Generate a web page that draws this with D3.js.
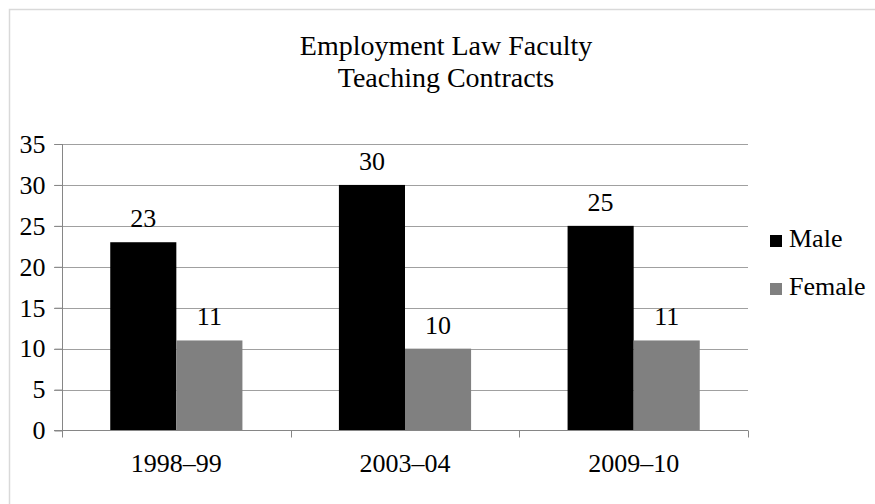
<!DOCTYPE html>
<html><head><meta charset="utf-8">
<script src="https://cdn.jsdelivr.net/npm/d3@7"></script>
<style>html,body{margin:0;padding:0;background:#fff;}svg{display:block;} svg text{font-family:"Liberation Serif","Times New Roman",serif !important;}</style>
</head><body>
<script>
const categories = ["1998–99", "2003–04", "2009–10"];
const seriesNames = ["Male", "Female"];
const maleValues = [23, 30, 25];
const femaleValues = [11, 10, 11];
const yTicks = [0, 5, 10, 15, 20, 25, 30, 35];
const titleLines = ["Employment Law Faculty", "Teaching Contracts"];
const colors = ["#000000", "#808080"];

const W = 875, H = 504;
const font = "Liberation Serif";
const svg = d3.select("body").append("svg").attr("width", W).attr("height", H);
svg.append("rect").attr("width", W).attr("height", H).attr("fill", "#fff");
svg.append("rect").attr("x", 9.5).attr("y", 9.5).attr("width", 880).attr("height", 520)
  .attr("fill", "none").attr("stroke", "#d9d9d9").attr("stroke-width", 1.5);

const pLeft = 62, pRight = 748, pTop = 144, pBottom = 430.5;
const x = d3.scaleBand().domain(categories).range([pLeft, pRight]).paddingInner(0).paddingOuter(0);
const x1 = d3.scaleBand().domain(seriesNames).range([0, x.bandwidth()]).paddingInner(0).paddingOuter(0.73);
const y = d3.scaleLinear().domain([0, 35]).range([pBottom, pTop]);

// gridlines
svg.append("g").selectAll("line").data(yTicks.filter(d => d > 0)).join("line")
  .attr("x1", pLeft - 8).attr("x2", pRight)
  .attr("y1", d => Math.round(y(d)) + 0.5).attr("y2", d => Math.round(y(d)) + 0.5)
  .attr("stroke", "#a0a0a0").attr("stroke-width", 1);

const data = categories.map((c, i) => ({cat: c, vals: [maleValues[i], femaleValues[i]]}));
const g = svg.append("g");
data.forEach(d => {
  d.vals.forEach((v, j) => {
    const bx = x(d.cat) + x1(seriesNames[j]);
    g.append("rect").attr("x", bx).attr("y", y(v)).attr("width", x1.bandwidth())
      .attr("height", y(0) - y(v)).attr("fill", colors[j]);
    g.append("text").attr("x", bx + x1.bandwidth() / 2).attr("y", y(v) - 15)
      .attr("text-anchor", "middle").style("font-family", font).style("font-size", "26px")
      .attr("fill", "#000").text(v);
  });
});

// y axis
const yAxis = d3.axisLeft(y).tickValues(yTicks).tickSize(8).tickPadding(9);
const ya = svg.append("g").attr("transform", `translate(${pLeft + 0.5},0)`).call(yAxis)
  .attr("font-family", null).attr("font-size", null);
ya.select(".domain").attr("stroke", "#868686").attr("d", `M0,${pTop}V${pBottom}`);
ya.selectAll(".tick line").attr("stroke", "#868686");
ya.selectAll(".tick text").style("font-family", font).style("font-size", "26px").attr("fill", "#000");

// x axis
const xa = svg.append("g").attr("transform", `translate(0,${pBottom})`);
xa.append("line").attr("x1", pLeft - 8).attr("x2", pRight).attr("y1", 0).attr("y2", 0)
  .attr("stroke", "#868686");
const tickPos = categories.map(c => x(c)).concat([pRight]);
xa.selectAll("line.t").data(tickPos).join("line").attr("class", "t")
  .attr("x1", d => Math.round(d) + 0.5).attr("x2", d => Math.round(d) + 0.5)
  .attr("y1", 0).attr("y2", 7).attr("stroke", "#868686");
xa.selectAll("text").data(categories).join("text")
  .attr("x", d => x(d) + x.bandwidth() / 2).attr("y", 41)
  .attr("text-anchor", "middle").style("font-family", font).style("font-size", "26px")
  .attr("fill", "#000").text(d => d);

// title
svg.append("g").selectAll("text").data(titleLines).join("text")
  .attr("x", 446).attr("y", (d, i) => 55 + i * 32)
  .attr("text-anchor", "middle").style("font-family", font).style("font-size", "28px")
  .attr("fill", "#000").text(d => d);

// legend
const lg = svg.append("g").selectAll("g").data(seriesNames).join("g")
  .attr("transform", (d, i) => `translate(770,${235 + i * 48})`);
lg.append("rect").attr("width", 12).attr("height", 12).attr("fill", (d, i) => colors[i]);
lg.append("text").attr("x", 19).attr("y", 12).style("font-family", font).style("font-size", "26px")
  .attr("fill", "#000").text(d => d);
</script>
</body></html>
